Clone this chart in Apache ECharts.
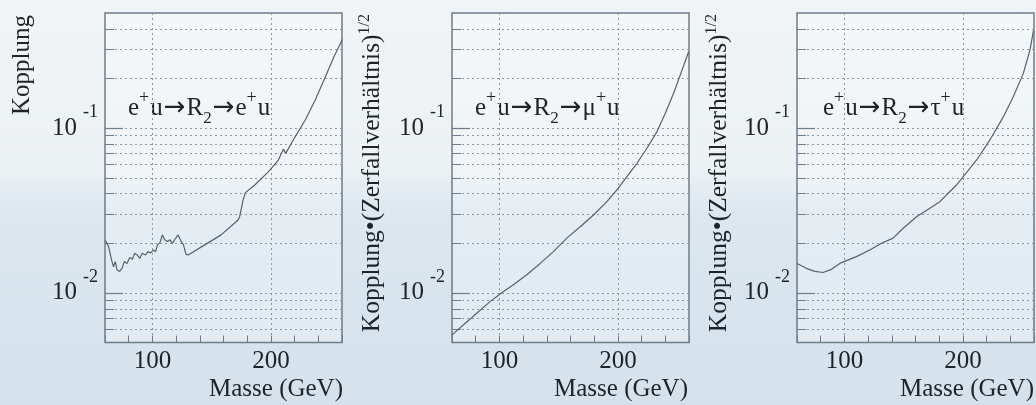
<!DOCTYPE html>
<html>
<head>
<meta charset="utf-8">
<script src="https://cdn.jsdelivr.net/npm/echarts@6/dist/echarts.min.js"></script>
<style>
  html, body { margin: 0; padding: 0; }
  #chart {
    width: 1036px; height: 405px;
    background: linear-gradient(to bottom, #f0f4f6 0%, #ecf1f4 42%, #dce7ef 52%, #d5e2ec 100%);
  }
</style>
</head>
<body>
<div id="chart"></div>
<script>
// x axis (Masse in GeV)
var massLabels = [100, 200];
// y axis (log scale)
var decadeTicks = [0.01, 0.1];
var minorTicks = [0.006, 0.007, 0.008, 0.009, 0.01, 0.02, 0.03, 0.04, 0.05, 0.06, 0.07, 0.08, 0.09, 0.1, 0.2, 0.3, 0.4];

// e+u -> R2 -> e+u
var massEE = [60.2, 63.0, 65.9, 67.2, 68.7, 70.1, 72.3, 74.4, 76.3, 78.6, 80.9, 83.1, 85.1, 87.1, 89.4, 91.4, 94.2, 96.2, 98.5, 100.8,
  102.7, 104.2, 106.4, 108.4, 110.4, 112.7, 114.9, 116.9, 118.9, 121.7, 124.0, 126.3, 128.3, 130.2, 143.8, 158.0, 172.3, 173.6, 175.1, 176.5,
  178.5, 186.4, 197.8, 206.3, 210.6, 212.5, 220.4, 228.9, 237.4, 246.0, 253.1, 258.7, 260];
var coupEE = [0.0209, 0.0191, 0.0155, 0.0144, 0.0155, 0.0138, 0.0135, 0.0141, 0.0155, 0.0151, 0.0164, 0.0160, 0.0174, 0.0170, 0.0162, 0.0174, 0.0170, 0.0178, 0.0175, 0.0182,
  0.0178, 0.0195, 0.0202, 0.0225, 0.0210, 0.0205, 0.0210, 0.0200, 0.0211, 0.0225, 0.0207, 0.0195, 0.0172, 0.0170, 0.0195, 0.0225, 0.0277, 0.0290, 0.0326, 0.0366,
  0.0406, 0.0452, 0.0543, 0.0640, 0.0746, 0.0703, 0.0886, 0.1117, 0.148, 0.205, 0.270, 0.326, 0.345];

// e+u -> R2 -> mu+u
var massMu = [60, 69.5, 80.9, 92.1, 101.4, 111.8, 123.1, 134.4, 145.6, 156.9, 168.2, 179.4, 190.7, 199.2, 207.6, 216.1, 224.5, 233.0, 240.0, 247.0, 254.1, 259.7];
var coupMu = [0.00556, 0.00638, 0.00752, 0.00885, 0.00995, 0.0112, 0.0129, 0.0151, 0.0178, 0.0215, 0.0252, 0.0297, 0.0358, 0.0422, 0.0508, 0.0612, 0.0755, 0.0953, 0.123, 0.163, 0.225, 0.291];

// e+u -> R2 -> tau+u
var massTau = [60, 67.9, 75.0, 82.0, 89.1, 96.1, 101.7, 110.2, 121.4, 131.3, 141.1, 149.6, 160.9, 172.1, 180.6, 186.2, 194.7, 200.3, 211.6, 222.8, 234.1, 242.5, 251.0, 256.6, 259.5];
var coupTau = [0.0151, 0.0141, 0.0135, 0.0133, 0.0139, 0.0151, 0.0157, 0.0166, 0.0182, 0.0200, 0.0215, 0.0247, 0.0290, 0.0327, 0.0358, 0.0394, 0.0452, 0.0508, 0.0641, 0.0848, 0.117, 0.155, 0.215, 0.298, 0.39];

var FONT = 'Liberation Serif';
var frameColor = '#6e7c89';
var gridColor = '#8a98a4';
var curveColor = '#55616d';
var textColor = '#1e2327';

function zip(xs, ys) {
  var res = [];
  for (var i = 0; i < xs.length; i++) res.push([xs[i], ys[i]]);
  return res;
}

var panels = [
  { left: 105, data: zip(massEE, coupEE) },
  { left: 452, data: zip(massMu, coupMu) },
  { left: 797, data: zip(massTau, coupTau) }
];

var grids = [], xAxes = [], yAxes = [], series = [];
panels.forEach(function (p, i) {
  grids.push({
    left: p.left, top: 13, width: 237, height: 329.5,
    show: true, borderColor: frameColor, borderWidth: 1.5,
    backgroundColor: 'rgba(255,255,255,0.25)'
  });
  // small ticks every 20 GeV
  xAxes.push({
    gridIndex: i, type: 'value', position: 'bottom', min: 60, max: 260, interval: 20,
    axisLine: { show: false },
    axisTick: { inside: true, length: 7, lineStyle: { color: frameColor, width: 1 } },
    axisLabel: { show: false },
    splitLine: { show: false }
  });
  // labels and dotted grid at 100 and 200
  xAxes.push({
    gridIndex: i, type: 'value', position: 'bottom', offset: 0, min: 60, max: 260,
    axisLine: { show: false },
    axisTick: { show: false, customValues: massLabels },
    axisLabel: {
      customValues: massLabels, margin: 6,
      fontFamily: FONT, fontSize: 25, color: textColor, lineHeight: 25
    },
    splitLine: { show: true, lineStyle: { color: gridColor, width: 1, type: [2, 3] } }
  });
  yAxes.push({
    gridIndex: i, type: 'log', logBase: 10, position: 'left', min: 0.005, max: 0.5,
    axisLine: { show: false },
    axisTick: { inside: true, length: 9, customValues: minorTicks, lineStyle: { color: frameColor, width: 1 } },
    axisLabel: {
      customValues: decadeTicks, margin: 7,
      formatter: function (v) {
        return '{b|10}{s|' + Math.round(Math.log10(v)) + '}';
      },
      rich: {
        b: { fontFamily: FONT, fontSize: 25, color: textColor, lineHeight: 50, verticalAlign: 'middle' },
        s: { fontFamily: FONT, fontSize: 18, color: textColor, lineHeight: 18, verticalAlign: 'top', padding: [0, 0, 0, 6] }
      }
    },
    splitLine: { show: true, lineStyle: { color: gridColor, width: 1, type: [2, 3] } }
  });
  yAxes.push({
    gridIndex: i, type: 'log', logBase: 10, position: 'left', offset: 0, min: 0.005, max: 0.5,
    axisLine: { show: false },
    axisTick: { inside: true, length: 18, customValues: decadeTicks, lineStyle: { color: frameColor, width: 1.2 } },
    axisLabel: { show: false },
    splitLine: { show: false }
  });
  series.push({
    type: 'line', xAxisIndex: 2 * i, yAxisIndex: 2 * i,
    data: p.data, showSymbol: false, symbol: 'none', clip: true,
    lineStyle: { color: curveColor, width: 1.2 }
  });
});

var annoRich = {
  n: { fontFamily: FONT, fontSize: 25, fill: textColor, lineHeight: 38, verticalAlign: 'middle' },
  r: { fontFamily: 'DejaVu Sans', fontSize: 26, fill: textColor, lineHeight: 38, verticalAlign: 'middle', padding: [0, 1, 0, 1] },
  p: { fontFamily: FONT, fontSize: 18, fill: textColor, lineHeight: 18, verticalAlign: 'top', padding: [0, 1, 0, 0] },
  d: { fontFamily: FONT, fontSize: 17, fill: textColor, lineHeight: 22, verticalAlign: 'bottom' }
};
var titleRich = {
  a: { fontFamily: FONT, fontSize: 25.5, fill: textColor, lineHeight: 30, verticalAlign: 'middle' },
  s: { fontFamily: FONT, fontSize: 16, fill: textColor, lineHeight: 15, verticalAlign: 'top' }
};

function anno(x, lepton) {
  return {
    type: 'text', x: x, y: 108,
    style: {
      text: '{n|e}{p|+}{n|u}{r|\u2192}{n|R}{d|2}{r|\u2192}{n|' + lepton + '}{p|+}{n|u}',
      rich: annoRich, align: 'left', verticalAlign: 'middle'
    }
  };
}
function massTitle(x) {
  return {
    type: 'text', x: x, y: 389,
    style: { text: 'Masse (GeV)', font: '25px "' + FONT + '"', fill: textColor, align: 'right', verticalAlign: 'middle' }
  };
}
function yTitle(x) {
  return {
    type: 'text', x: x, y: 14, rotation: Math.PI / 2,
    style: {
      text: '{a|Kopplung\u2022(Zerfallverh\u00e4ltnis)}{s|1/2}',
      rich: titleRich, align: 'right', verticalAlign: 'middle'
    }
  };
}

var chart = echarts.init(document.getElementById('chart'));
chart.setOption({
  animation: false,
  grid: grids,
  xAxis: xAxes,
  yAxis: yAxes,
  series: series,
  graphic: [
    {
      type: 'text', x: 22, y: 15, rotation: Math.PI / 2,
      style: { text: 'Kopplung', font: '25px "' + FONT + '"', fill: textColor, align: 'right', verticalAlign: 'middle' }
    },
    yTitle(372),
    yTitle(719),
    anno(128, 'e'),
    anno(475, '\u03bc'),
    anno(823, '\u03c4'),
    massTitle(343),
    massTitle(688),
    massTitle(1034)
  ]
});
</script>
</body>
</html>
